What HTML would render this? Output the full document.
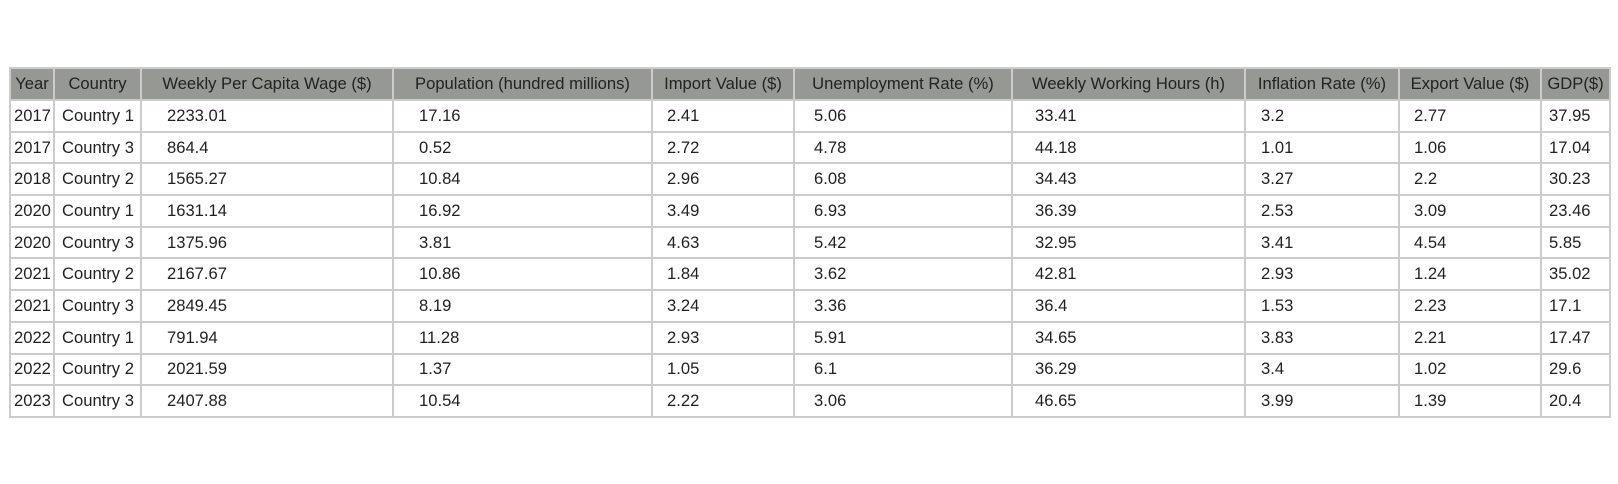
<!DOCTYPE html>
<html><head><meta charset="utf-8"><style>
html,body{margin:0;padding:0;background:#fff;width:1618px;height:484px;overflow:hidden}
table{position:absolute;left:9px;top:67px;width:1600px;border-collapse:collapse;table-layout:fixed;font-family:"Liberation Sans",sans-serif;font-size:16.6px;color:#222}
th,td{border:2px solid #cccccc;padding:0;white-space:nowrap;overflow:hidden;box-sizing:border-box}
tr{height:31.7px}
thead tr{height:32px}
th{background:#969893;font-weight:normal;text-align:center}
td{text-align:left}
</style></head><body>
<table>
<colgroup><col style="width:44px"><col style="width:87px"><col style="width:252px"><col style="width:259px"><col style="width:142px"><col style="width:218px"><col style="width:233px"><col style="width:154px"><col style="width:142px"><col style="width:69px"></colgroup>
<thead><tr>
<th>Year</th>
<th>Country</th>
<th>Weekly Per Capita Wage ($)</th>
<th>Population (hundred millions)</th>
<th>Import Value ($)</th>
<th>Unemployment Rate (%)</th>
<th>Weekly Working Hours (h)</th>
<th>Inflation Rate (%)</th>
<th>Export Value ($)</th>
<th>GDP($)</th>
</tr></thead>
<tbody id="tb"></tbody>
</table>
<script>
const rows=[
["2017","Country 1","2233.01","17.16","2.41","5.06","33.41","3.2","2.77","37.95"],
["2017","Country 3","864.4","0.52","2.72","4.78","44.18","1.01","1.06","17.04"],
["2018","Country 2","1565.27","10.84","2.96","6.08","34.43","3.27","2.2","30.23"],
["2020","Country 1","1631.14","16.92","3.49","6.93","36.39","2.53","3.09","23.46"],
["2020","Country 3","1375.96","3.81","4.63","5.42","32.95","3.41","4.54","5.85"],
["2021","Country 2","2167.67","10.86","1.84","3.62","42.81","2.93","1.24","35.02"],
["2021","Country 3","2849.45","8.19","3.24","3.36","36.4","1.53","2.23","17.1"],
["2022","Country 1","791.94","11.28","2.93","5.91","34.65","3.83","2.21","17.47"],
["2022","Country 2","2021.59","1.37","1.05","6.1","36.29","3.4","1.02","29.6"],
["2023","Country 3","2407.88","10.54","2.22","3.06","46.65","3.99","1.39","20.4"]];
const pads=[3,7,25,25,14,19,22,15,14,7];
const tb=document.getElementById('tb');
rows.forEach((r,i)=>{
 const tr=document.createElement('tr');
 
 
 r.forEach((v,j)=>{
  const td=document.createElement('td');
  
  
  td.style.paddingLeft=pads[j]+'px';
  td.textContent=v;tr.appendChild(td);
 });
 tb.appendChild(tr);
});
</script>
</body></html>
